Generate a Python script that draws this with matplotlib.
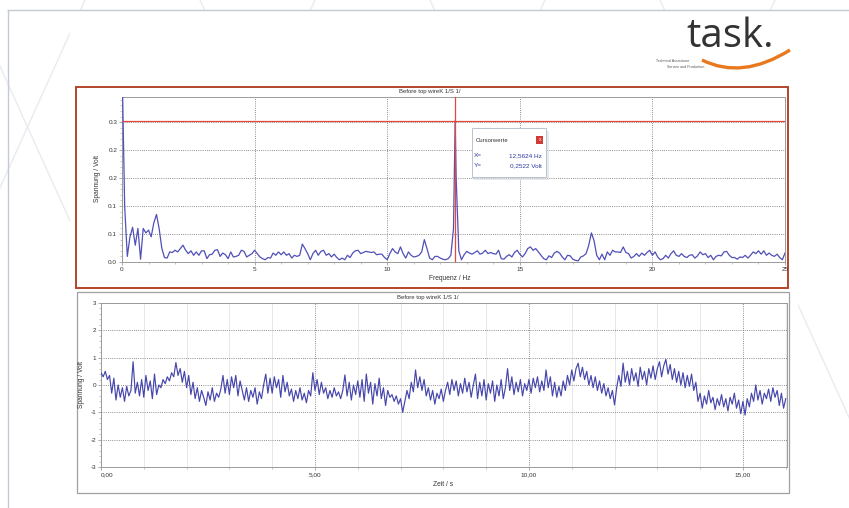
import numpy as np
import matplotlib.pyplot as plt
from matplotlib.patches import Rectangle
from matplotlib.path import Path
from matplotlib.patches import PathPatch
from matplotlib.ticker import MultipleLocator

W, H = 849, 508

# ---- spectrum (0 .. 25 Hz, 0.1 Hz steps) ----
spec_step = 0.1
spec_amp = [
    0.36, 0.10, 0.01, 0.045, 0.062, 0.03, 0.06, 0.005, 0.06, 0.052,
    0.057, 0.045, 0.07, 0.085, 0.06, 0.025, 0.008, 0.007, 0.018, 0.017,
    0.021, 0.018, 0.024, 0.030, 0.021, 0.015, 0.020, 0.012, 0.018, 0.012,
    0.020, 0.020, 0.006, 0.013, 0.014, 0.021, 0.022, 0.010, 0.016, 0.013,
    0.006, 0.018, 0.009, 0.010, 0.012, 0.021, 0.019, 0.009, 0.012, 0.015,
    0.021, 0.015, 0.009, 0.006, 0.004, 0.008, 0.007, 0.016, 0.012, 0.018,
    0.013, 0.018, 0.012, 0.015, 0.007, 0.012, 0.010, 0.012, 0.032, 0.024,
    0.015, 0.004, 0.015, 0.021, 0.012, 0.019, 0.021, 0.012, 0.015, 0.009,
    0.014, 0.008, 0.004, 0.007, 0.004, 0.012, 0.008, 0.016, 0.020, 0.021,
    0.015, 0.017, 0.019, 0.018, 0.017, 0.018, 0.013, 0.014, 0.014, 0.008,
    0.004, 0.015, 0.024, 0.018, 0.015, 0.027, 0.015, 0.007, 0.018, 0.012,
    0.009, 0.010, 0.012, 0.018, 0.040, 0.024, 0.007, 0.004, 0.010, 0.010,
    0.007, 0.005, 0.004, 0.006, 0.012, 0.060, 0.150, 0.020, 0.004, 0.013,
    0.019, 0.016, 0.014, 0.017, 0.020, 0.014, 0.016, 0.021, 0.015, 0.017,
    0.015, 0.014, 0.021, 0.006, 0.005, 0.010, 0.013, 0.009, 0.017, 0.021,
    0.014, 0.009, 0.015, 0.024, 0.027, 0.021, 0.024, 0.018, 0.012, 0.006,
    0.004, 0.011, 0.008, 0.016, 0.019, 0.016, 0.009, 0.004, 0.012, 0.011,
    0.005, 0.003, 0.002, 0.009, 0.011, 0.015, 0.030, 0.052, 0.038, 0.012,
    0.004, 0.014, 0.004, 0.018, 0.012, 0.021, 0.018, 0.018, 0.017, 0.027,
    0.017, 0.015, 0.007, 0.010, 0.015, 0.010, 0.016, 0.012, 0.017, 0.021,
    0.012, 0.018, 0.009, 0.004, 0.006, 0.012, 0.007, 0.015, 0.020, 0.012,
    0.010, 0.015, 0.010, 0.008, 0.012, 0.013, 0.007, 0.011, 0.018, 0.013,
    0.015, 0.008, 0.012, 0.004, 0.010, 0.012, 0.011, 0.018, 0.019, 0.012,
    0.008, 0.008, 0.005, 0.009, 0.008, 0.012, 0.007, 0.012, 0.018, 0.015,
    0.020, 0.014, 0.020, 0.012, 0.016, 0.012, 0.010, 0.014, 0.008, 0.004,
    0.016,
]
cursor_x = 12.5624
cursor_y = 0.2522
spec_yticks = [0.0, 0.05, 0.10, 0.15, 0.20, 0.25]
spec_ylabels = ["0.0", "0.1", "0.1", "0.2", "0.2", "0.3"]
spec_xticks = [0, 5, 10, 15, 20, 25]

# ---- time signal (0 .. 16 s, 0.05 s steps) ----
time_step = 0.05
signal_v = [
    0.45, 0.3, 0.5, 0.2, 0.35, -0.3, 0.25, -0.55, 0.0, -0.45, -0.1, -0.6, -0.05, -0.4, -0.2, 0.85, -0.3, 0.1, -0.4, 0.2,
    -0.45, 0.35, -0.2, 0.15, -0.5, 0.4, -0.35, 0.0, -0.1, 0.2, 0.05, 0.3, 0.15, 0.45, 0.3, 0.82, 0.35, 0.6, 0.1, 0.5,
    -0.1, 0.35, -0.35, 0.1, -0.5, -0.1, -0.6, -0.2, -0.45, -0.75, -0.25, -0.55, -0.1, -0.6, -0.3, -0.45, -0.15, 0.35, -0.3, 0.2,
    -0.35, 0.3, -0.1, 0.35, -0.4, 0.15, -0.2, -0.55, -0.1, -0.6, -0.2, -0.45, -0.1, -0.7, -0.25, -0.5, 0.0, 0.4, -0.3, 0.25,
    -0.3, 0.3, -0.1, 0.2, -0.45, 0.35, -0.25, 0.1, -0.4, -0.15, -0.6, -0.2, -0.5, -0.1, -0.55, -0.3, -0.65, -0.2, -0.4, 0.45,
    -0.2, 0.2, -0.35, 0.1, -0.3, -0.1, -0.5, -0.2, -0.45, -0.1, -0.4, -0.25, -0.5, -0.2, 0.37, -0.4, 0.1, -0.55, 0.0, -0.35,
    0.15, -0.45, 0.2, -0.6, 0.4, -0.3, 0.1, -0.7, 0.05, -0.4, 0.25, -0.5, -0.1, -0.75, -0.2, -0.45, -0.35, -0.6, -0.4, -0.7,
    -0.5, -1.0, -0.6, -0.2, -0.5, 0.1, -0.25, 0.55, -0.1, 0.3, -0.2, 0.2, -0.4, -0.1, -0.55, -0.2, -0.7, -0.3, -0.5, -0.15,
    -0.6, -0.2, 0.1, -0.35, 0.2, -0.2, 0.15, -0.4, 0.05, -0.3, 0.25, -0.25, 0.1, -0.45, 0.0, 0.4, -0.5, 0.1, -0.4, 0.2,
    -0.55, 0.05, -0.3, 0.15, -0.6, 0.0, -0.4, 0.2, -0.5, -0.1, 0.6, -0.2, 0.3, -0.35, 0.1, -0.25, 0.2, -0.4, 0.05, -0.2,
    0.2, -0.3, 0.25, -0.1, 0.3, -0.25, 0.15, -0.2, 0.55, -0.1, 0.3, -0.4, 0.1, -0.45, -0.05, -0.4, 0.15, -0.2, 0.35, 0.0,
    0.55, 0.15, 0.6, 0.8, 0.3, 0.65, 0.2, 0.5, 0.0, 0.35, -0.1, 0.3, -0.2, 0.15, -0.3, 0.05, -0.4, -0.1, -0.5, -0.2,
    -0.73, -0.1, 0.35, -0.05, 0.8, 0.1, 0.5, 0.0, 0.6, 0.15, 0.45, -0.05, 0.65, 0.2, 0.5, 0.0, 0.6, 0.25, 0.7, 0.2,
    0.6, 0.85, 0.3, 0.7, 0.94, 0.4, 0.75, 0.2, 0.6, 0.1, 0.5, 0.0, 0.45, -0.1, 0.35, -0.05, 0.4, -0.2, 0.1, -0.6,
    -0.3, -0.85, -0.4, -0.7, -0.2, -0.65, -0.45, -0.9, -0.5, -0.75, -0.35, -0.8, -0.5, -0.95, -0.45, -0.7, -0.3, -0.85, -0.55, -1.05,
    -0.6, -1.1, -0.5, -0.8, -0.3, -0.6, 0.0, -0.55, -0.2, -0.7, -0.3, -0.5, -0.15, -0.6, -0.1, -0.45, -0.2, -0.75, -0.3, -0.85,
    -0.5,
]
sig_xticks = [0, 5, 10, 15]
sig_xlabels = ["0,00", "5,00", "10,00", "15,00"]
sig_yticks = [-3, -2, -1, 0, 1, 2, 3]

panel_title = "Before top wireK 1/S 1/"

plt.rcParams["font.family"] = ["Liberation Sans", "DejaVu Sans"]
plt.rcParams["axes.unicode_minus"] = False


def box(l, t, r, b):
    return [l / W, 1 - b / H, (r - l) / W, (b - t) / H]


fig = plt.figure(figsize=(W / 100, H / 100), dpi=100)
fig.patch.set_facecolor("white")

# background / decoration layer in pixel coordinates
bg = fig.add_axes([0, 0, 1, 1])
bg.set_xlim(0, W)
bg.set_ylim(H, 0)
bg.axis("off")
for i, x0 in enumerate(range(-260, 1000, 115)):
    d = 1 if i % 2 == 0 else -1
    bg.plot([x0, x0 + d * 230], [0, H], color="#e8ebef", lw=1.0, zorder=0)
bg.add_patch(Rectangle((70, 11), 728, H, facecolor="white", edgecolor="none", zorder=1))
bg.plot([8, 8], [10, H], color="#c3cad4", lw=1.0, zorder=2)
bg.plot([8, W], [10, 10], color="#c3cad4", lw=1.0, zorder=2)

# logo
bg.text(686, 47, "task.", fontsize=29, family="Open Sans", color="#333333",
        va="baseline", ha="left", zorder=3)
swoosh = Path([(702, 60), (742, 80), (790, 50)], [Path.MOVETO, Path.CURVE3, Path.CURVE3])
bg.add_patch(PathPatch(swoosh, facecolor="none", edgecolor="#e8791f", lw=2.4, zorder=3))
bg.text(656, 60.5, "Technical Assistance", fontsize=2.6, color="#555555", va="center", zorder=3)
bg.text(667, 66.5, "Service and Production", fontsize=2.6, color="#555555", va="center", zorder=3)

# panel frames
bg.add_patch(Rectangle((76, 87), 712, 201, facecolor="white", edgecolor="#b3452e", lw=1.4, zorder=2))
bg.add_patch(Rectangle((77, 292), 712, 201, facecolor="white", edgecolor="#a0a0a0", lw=0.9, zorder=2))
bg.text(430, 91.5, panel_title, fontsize=4.3, ha="center", va="center", color="#333333", zorder=3)
bg.text(428, 298, panel_title, fontsize=4.3, ha="center", va="center", color="#333333", zorder=3)
bg.text(450, 279, "Frequenz / Hz", fontsize=4.8, ha="center", va="center", color="#333333", zorder=3)
bg.text(443, 485, "Zeit / s", fontsize=4.8, ha="center", va="center", color="#333333", zorder=3)
bg.text(98, 178, "Spannung / Volt", fontsize=4.8, rotation=90, ha="center", va="center",
        color="#333333", zorder=3)
bg.text(82, 385, "Spannung / Volt", fontsize=4.8, rotation=90, ha="center", va="center",
        color="#333333", zorder=3)

grid_kw = dict(color="#6a6a6a", lw=0.6, linestyle=(0, (1, 1.6)))


def style_axes(ax):
    for s in ax.spines.values():
        s.set_color("#9a9a9a")
        s.set_linewidth(0.7)
    ax.tick_params(which="major", length=2, width=0.5, color="#888888",
                   labelsize=4.6, pad=1.5, labelcolor="#333333")
    ax.tick_params(which="minor", length=1.3, width=0.4, color="#999999")


# ---- spectrum ----
ax1 = fig.add_axes(box(122, 97, 785, 262))
freq = np.arange(len(spec_amp)) * spec_step
k = int(np.searchsorted(freq, cursor_x))
freq = np.insert(freq, k, cursor_x)
amp = np.insert(np.array(spec_amp), k, cursor_y)
ax1.plot(freq, amp, color="#5050b8", lw=0.9, zorder=3)
ax1.axhline(cursor_y, color="#e2483e", lw=0.9, zorder=4)
ax1.axvline(cursor_x, color="#e2483e", lw=0.9, zorder=4)
ax1.set_xlim(0, 25)
ax1.set_ylim(0, 0.295)
ax1.set_xticks(spec_xticks)
ax1.set_yticks(spec_yticks)
ax1.set_yticklabels(spec_ylabels)
ax1.xaxis.set_minor_locator(MultipleLocator(1))
ax1.yaxis.set_minor_locator(MultipleLocator(0.01))
ax1.grid(True, which="major", **grid_kw)
ax1.set_axisbelow(True)
style_axes(ax1)

# ---- time signal ----
ax2 = fig.add_axes(box(101, 303, 787, 467))
t = np.arange(len(signal_v)) * time_step
ax2.plot(t, signal_v, color="#4646ac", lw=0.85, zorder=3)
ax2.set_xlim(0, 16.03)
ax2.set_ylim(-3, 3)
ax2.set_xticks(sig_xticks)
ax2.set_xticklabels(sig_xlabels)
ax2.set_yticks(sig_yticks)
ax2.xaxis.set_minor_locator(MultipleLocator(1))
ax2.yaxis.set_minor_locator(MultipleLocator(0.2))
ax2.grid(True, which="minor", axis="x", color="#e3e3e3", lw=0.6, linestyle="-")
ax2.grid(True, which="major", **grid_kw)
ax2.set_axisbelow(True)
style_axes(ax2)
lab0 = ax2.get_xticklabels()[0]
lab0.set_ha("left")

# ---- cursor value box ----
ov = fig.add_axes([0, 0, 1, 1], zorder=10)
ov.set_xlim(0, W)
ov.set_ylim(H, 0)
ov.axis("off")
ov.patch.set_alpha(0)
ov.add_patch(Rectangle((474, 131), 75, 49, facecolor="#d8dce2", edgecolor="none", alpha=0.6))
ov.add_patch(Rectangle((472, 128), 74, 49, facecolor="white", edgecolor="#b9c3d0", lw=0.7))
ov.text(476, 140, "Cursorwerte", fontsize=4.3, color="#333333", va="center")
ov.add_patch(Rectangle((536.5, 135.5), 7, 8.5, facecolor="#d23a35", edgecolor="none"))
ov.text(540, 139.8, "x", fontsize=3.6, color="white", ha="center", va="center")
ov.text(474, 155.5, "X=", fontsize=4.6, color="#2c3b9c", va="center")
ov.text(542, 155.5, "12,5624 Hz", fontsize=4.6, color="#2c3b9c", va="center", ha="right")
ov.text(474, 165.5, "Y=", fontsize=4.6, color="#2c3b9c", va="center")
ov.text(542, 165.5, "0,2522 Volt", fontsize=4.6, color="#2c3b9c", va="center", ha="right")

fig.savefig("out.png", dpi=100)
